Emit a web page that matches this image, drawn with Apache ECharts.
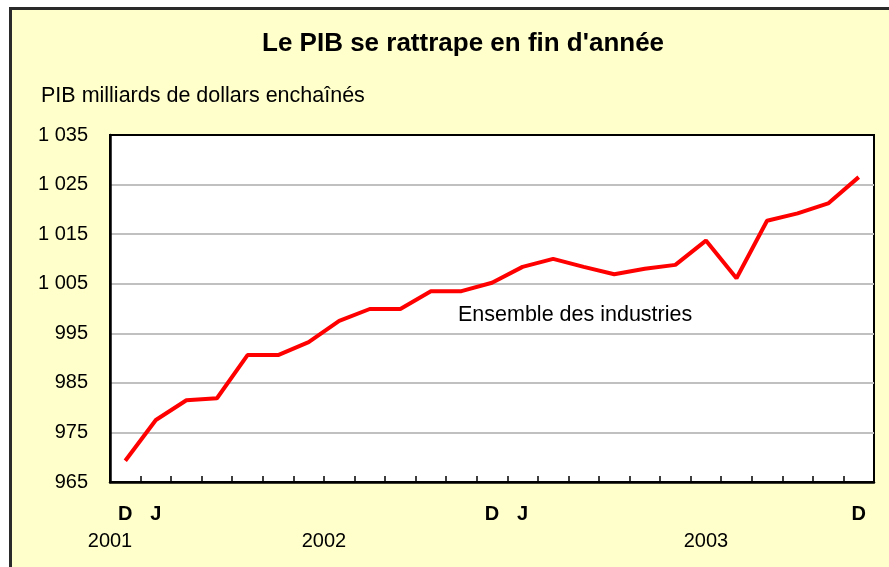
<!DOCTYPE html>
<html>
<head>
<meta charset="utf-8">
<script src="https://cdn.jsdelivr.net/npm/echarts@6/dist/echarts.min.js"></script>
<style>
  html, body { margin: 0; padding: 0; background: #ffffff; overflow: hidden; }
  #frame { position: absolute; left: 9px; top: 7px; width: 900px; height: 580px;
           border-left: 3px solid #2a2a2a; border-top: 3px solid #2a2a2a; background: #ffffcc; }
  #chart { position: absolute; left: 0; top: 0; width: 889px; height: 567px; }
</style>
</head>
<body>
<div id="frame"></div>
<div id="chart"></div>
<script>
// ---- data ----
const titleText = "Le PIB se rattrape en fin d'année";
const yAxisTitle = "PIB milliards de dollars enchaînés";
const seriesName = "Ensemble des industries";
// monthly, Dec 2001 .. Dec 2003
const months = ["2001-12","2002-01","2002-02","2002-03","2002-04","2002-05","2002-06","2002-07","2002-08","2002-09","2002-10","2002-11","2002-12",
                "2003-01","2003-02","2003-03","2003-04","2003-05","2003-06","2003-07","2003-08","2003-09","2003-10","2003-11","2003-12"];
const monthTickLabels = ["D","J","","","","","","","","","","","D","J","","","","","","","","","","","D"];
const gdp = [969.3, 977.5, 981.5, 981.9, 990.6, 990.6, 993.2, 997.5, 999.9, 999.9, 1003.5, 1003.5, 1005.2,
             1008.4, 1010.0, 1008.4, 1006.9, 1008.0, 1008.8, 1013.7, 1006.1, 1017.7, 1019.2, 1021.2, 1026.5];
const yearLabels = ["2001", "2002", "2003"];
const yearPositions = [-0.5, 6.5, 19];   // in category index units
const yMin = 965, yMax = 1035, yStep = 10;

const FONT = "Liberation Sans, Arial, sans-serif";

function fmtNum(v) {
  const s = String(Math.round(v));
  return s.length > 3 ? s.slice(0, s.length - 3) + " " + s.slice(-3) : s;
}

const chart = echarts.init(document.getElementById('chart'), null, { renderer: 'canvas' });
chart.setOption({
  backgroundColor: 'transparent',
  animation: false,
  title: [
    { text: titleText, left: 257, top: 26,
      textStyle: { fontFamily: FONT, fontSize: 26, fontWeight: 'bold', color: '#000' } },
    { text: yAxisTitle, left: 36, top: 80,
      textStyle: { fontFamily: FONT, fontSize: 21.5, fontWeight: 'normal', color: '#000' } },
    { text: seriesName, left: 453, top: 299,
      textStyle: { fontFamily: FONT, fontSize: 21.5, fontWeight: 'normal', color: '#000' } }
  ],
  grid: { left: 110, right: 15, top: 135, bottom: 85, show: true,
          backgroundColor: '#ffffff', borderColor: '#000', borderWidth: 2 },
  xAxis: [
    { type: 'category', data: months, boundaryGap: true,
      axisLine: { show: true, lineStyle: { color: '#000', width: 2.5 } },
      axisTick: { show: true, inside: true, length: 6, lineStyle: { color: '#000', width: 1.5 } },
      axisLabel: { interval: 0, margin: 22, fontFamily: FONT, fontSize: 20, fontWeight: 'bold', color: '#000',
                   formatter: (v, i) => monthTickLabels[i] },
      splitLine: { show: false } },
    { type: 'value', position: 'bottom', min: -0.5, max: months.length - 0.5, interval: 0.5,
      axisLine: { show: false }, axisTick: { show: false }, splitLine: { show: false },
      axisLabel: { margin: 49, showMinLabel: true, showMaxLabel: true,
                   fontFamily: FONT, fontSize: 20, color: '#000',
                   formatter: (v) => { const k = yearPositions.indexOf(v); return k >= 0 ? yearLabels[k] : ''; } } }
  ],
  yAxis: {
    type: 'value', min: yMin, max: yMax, interval: yStep,
    axisLine: { show: true, onZero: false, lineStyle: { color: '#000', width: 2.5 } },
    axisTick: { show: false },
    axisLabel: { margin: 22, fontFamily: FONT, fontSize: 20, color: '#000', formatter: fmtNum },
    splitLine: { show: true, showMinLine: false, showMaxLine: false, lineStyle: { color: '#c0c0c0', width: 2 } }
  },
  series: [{
    name: seriesName, type: 'line', data: gdp, xAxisIndex: 0,
    symbol: 'none', smooth: false,
    lineStyle: { color: '#ff0000', width: 4 }
  }]
});
</script>
</body>
</html>
